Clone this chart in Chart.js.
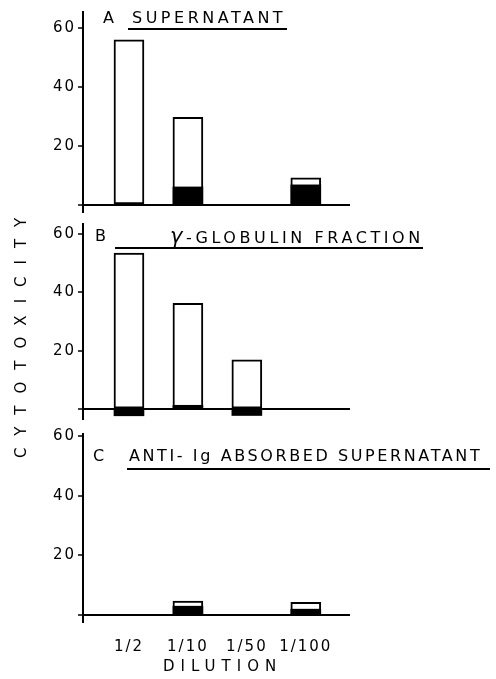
<!DOCTYPE html>
<html>
<head>
<meta charset="utf-8">
<script src="https://cdn.jsdelivr.net/npm/chart.js@4"></script>
<style>
  body { margin: 0; background: #fff; }
  #page { position: relative; width: 496px; height: 679px; overflow: hidden; font-family: "DejaVu Sans", sans-serif; color: #000; }
  canvas { position: absolute; left: 0; }
  .lbl { position: absolute; font-size: 16px; line-height: 18px; white-space: nowrap; }
  .rule { position: absolute; height: 2px; background: #000; }
  .gamma { font-size: 21px; font-style: italic; }
</style>
</head>
<body>
<div id="page">
  <canvas id="panelA" width="496" height="225" style="top:0px"></canvas>
  <canvas id="panelB" width="496" height="217" style="top:213px"></canvas>
  <canvas id="panelC" width="496" height="256" style="top:423px"></canvas>

  <div class="lbl" style="left:103px; top:9px">A</div>
  <div class="lbl" style="left:132px; top:9px; letter-spacing:3.5px">SUPERNATANT</div>
  <div class="rule" style="left:128px; top:28px; width:159px"></div>

  <div class="lbl" style="left:95px; top:227px">B</div>
  <div class="lbl" style="left:170px; top:227px; letter-spacing:3.6px"><span class="gamma">γ</span>-GLOBULIN FRACTION</div>
  <div class="rule" style="left:115px; top:247px; width:308px"></div>

  <div class="lbl" style="left:93px; top:447px">C</div>
  <div class="lbl" style="left:129px; top:447px; letter-spacing:2.6px">ANTI- Ig ABSORBED SUPERNATANT</div>
  <div class="rule" style="left:127px; top:468px; width:363px"></div>

  <div class="lbl" style="left:163px; top:657px; font-size:15px; letter-spacing:6px">DILUTION</div>
  <div class="lbl" style="left:12px; top:458px; font-size:15px; letter-spacing:12px; transform-origin:0 0; transform:rotate(-90deg)">CYTOTOXICITY</div>
</div>
<script>
const dilutions = ['1/2', '1/10', '1/50', '1/100'];
const yTicks = [0, 20, 40, 60];

// A: supernatant (open bar = total, black = filled part)
const supernatantTotal = [56, 29.7, null, 9.2];
const supernatantBlack = [null, 6.1, null, 6.8];

// B: gamma-globulin fraction
const globulinTotal = [53.4, 36.2, 16.9, null];
const globulinBlack = [-2.3, 1.3, -2.2, null];

// C: anti-Ig absorbed supernatant
const absorbedTotal = [null, 4.7, null, 4.3];
const absorbedBlack = [null, 3, null, 2];

const FONT = '"DejaVu Sans", sans-serif';

function points(values) {
    return values.map((v, i) => ({x: i + 1, y: v}));
}

// canvas text in the figure is widely spaced
const spacing = {
    id: 'spacing',
    beforeDraw(chart) {
        chart.ctx.letterSpacing = '2px';
    }
};

function makePanel(id, total, black, yMin, yMax, padTop, padBottom, showX) {
    return new Chart(document.getElementById(id), {
        type: 'bar',
        data: {
            datasets: [
                {
                    data: points(black),
                    backgroundColor: '#000',
                    borderWidth: 0,
                    barThickness: 30,
                    grouped: false,
                },
                {
                    data: points(total),
                    backgroundColor: '#fff',
                    borderColor: '#000',
                    borderWidth: 2,
                    borderSkipped: false,
                    barThickness: 30,
                    grouped: false,
                },
            ]
        },
        options: {
            responsive: false,
            animation: false,
            layout: {padding: {left: 0, right: 146, top: padTop, bottom: padBottom}},
            plugins: {
                legend: {display: false},
                tooltip: {enabled: false},
            },
            scales: {
                x: {
                    type: 'linear',
                    min: 0.22,
                    max: 4.75,
                    offset: false,
                    display: showX,
                    grid: {display: false, offset: false},
                    border: {display: false},
                    afterBuildTicks: s => { s.ticks = dilutions.map((d, i) => ({value: i + 1})); },
                    afterFit: s => { s.height = showX ? 44 : 0; },
                    ticks: {
                        callback: v => dilutions[v - 1],
                        autoSkip: false,
                        maxRotation: 0,
                        padding: 8,
                        color: '#000',
                        font: {family: FONT, size: 15},
                    },
                },
                y: {
                    min: yMin,
                    max: yMax,
                    border: {color: '#000', width: 2},
                    grid: {
                        color: c => (c.tick && c.tick.value === 0) ? '#000' : 'rgba(0,0,0,0)',
                        lineWidth: 2,
                        tickColor: '#000',
                        tickLength: 5,
                        tickWidth: 1.5,
                    },
                    afterBuildTicks: s => { s.ticks = yTicks.map(v => ({value: v})); },
                    afterFit: s => { s.width = 83; },
                    ticks: {
                        callback: v => v === 0 ? '' : v,
                        padding: 2,
                        color: '#000',
                        font: {family: FONT, size: 15},
                    },
                },
            },
        },
        plugins: [spacing],
    });
}

makePanel('panelA', supernatantTotal, supernatantBlack, -2.4, 65.4, 12, 13, false);
makePanel('panelB', globulinTotal, globulinBlack, -3.4, 63.4, 10, 10, false);
makePanel('panelC', absorbedTotal, absorbedBlack, -2.3, 60.7, 10, 13, true);
</script>
</body>
</html>
